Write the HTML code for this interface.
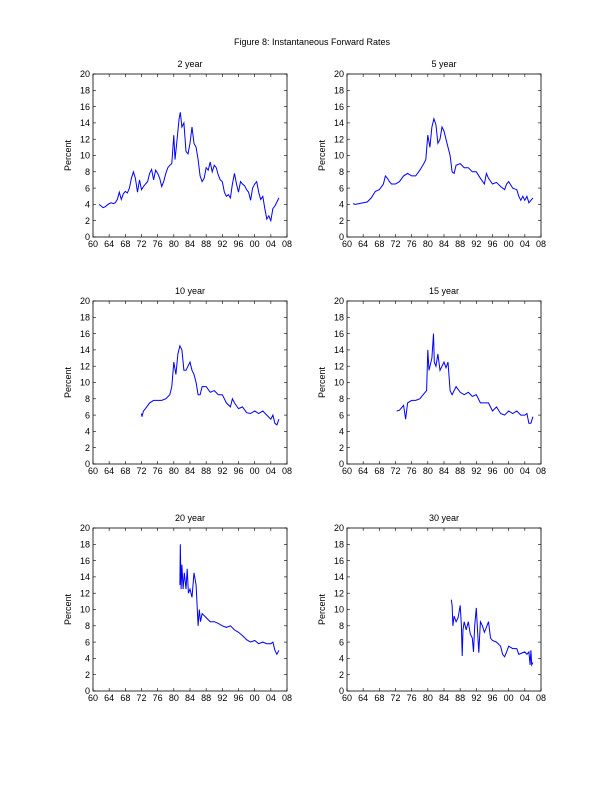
<!DOCTYPE html>
<html><head><meta charset="utf-8"><style>
body{margin:0;background:#fff}
svg{display:block;font-family:"Liberation Sans",sans-serif}
</style></head><body>
<svg id="fig" width="612" height="792">
<text x="312" y="45" font-size="9" text-anchor="middle">Figure 8: Instantaneous Forward Rates</text>
</svg>
<script>
const xTickLabels=["60","64","68","72","76","80","84","88","92","96","00","04","08"];
const yTickLabels=[0,2,4,6,8,10,12,14,16,18,20];
const panelTitles=["2 year","5 year","10 year","15 year","20 year","30 year"];
const y2Dates=[61.5,62,62.5,63,63.5,64,64.5,65,65.5,66,66.5,67,67.5,68,68.5,69,69.5,70,70.5,71,71.5,72,72.5,73,73.5,74,74.5,75,75.5,76,76.5,77,77.5,78,78.5,79,79.5,80,80.3,80.6,81,81.3,81.6,82,82.5,83,83.5,84,84.5,85,85.5,86,86.5,87,87.5,88,88.5,89,89.5,90,90.5,91,91.5,92,92.5,93,93.5,94,94.5,95,95.5,96,96.5,97,97.5,98,98.5,99,99.5,100,100.5,101,101.5,102,102.5,103,103.5,104,104.5,105,105.5,106];
const y2Vals=[4.0,3.8,3.6,3.7,3.9,4.1,4.2,4.1,4.2,4.6,5.5,4.6,5.3,5.6,5.4,6.0,7.2,8.0,7.2,5.5,7.0,5.8,6.2,6.5,6.8,7.8,8.3,7.0,8.2,7.8,7.2,6.2,6.8,7.8,8.5,8.8,9.0,12.5,9.5,11.0,13.0,14.5,15.3,13.5,14.0,10.5,10.2,11.5,13.5,11.5,11.0,9.5,7.5,6.8,7.2,8.5,8.2,9.2,8.0,8.8,8.5,7.6,7.0,6.8,5.5,5.0,5.2,4.8,6.5,7.8,6.5,5.5,6.8,6.5,6.3,5.8,5.5,4.5,6.0,6.5,6.8,5.5,4.6,5.0,3.5,2.2,2.6,2.0,3.5,3.8,4.3,4.8];
const y5Dates=[61.5,62,63,64,65,66,67,68,69,69.5,70,70.5,71,72,73,74,75,76,77,78,79,79.5,80,80.5,81,81.5,82,82.5,83,83.5,84,84.5,85,85.5,86,86.5,87,88,89,90,91,92,93,94,94.5,95,96,97,98,99,99.5,100,101,102,102.5,103,103.5,104,104.5,105,105.5,106];
const y5Vals=[4.1,4.0,4.1,4.2,4.3,4.8,5.6,5.8,6.5,7.5,7.2,6.8,6.5,6.5,6.8,7.5,7.8,7.5,7.5,8.2,9.0,9.5,12.5,11.0,13.5,14.5,13.8,11.5,12.0,13.5,13.0,12.0,11.0,10.0,8.0,7.8,8.8,9.0,8.5,8.5,8.0,8.0,7.2,6.5,7.8,7.2,6.5,6.7,6.2,5.8,6.5,6.8,6.0,5.8,5.0,4.5,5.0,4.5,5.0,4.2,4.5,4.8];
const y10Dates=[72,72.1,72.5,73,74,75,76,77,78,79,79.5,80,80.5,81,81.5,82,82.5,83,83.5,84,84.5,85,85.5,86,86.5,87,88,89,90,91,92,93,94,94.5,95,96,97,98,99,100,101,102,103,104,104.5,105,105.5,106];
const y10Vals=[6.2,5.8,6.5,6.8,7.5,7.8,7.8,7.8,8.0,8.5,9.5,12.5,11.0,13.5,14.5,14.0,11.5,11.5,12.0,12.5,11.5,11.0,10.0,8.5,8.5,9.5,9.5,8.8,9.0,8.5,8.5,7.5,7.0,8.0,7.5,6.8,7.0,6.3,6.2,6.5,6.2,6.5,6.0,5.5,6.0,5.0,4.8,5.5];
const y15Dates=[72.3,73,74,74.5,75,76,77,78,79,79.7,80,80.3,81,81.4,81.6,82,82.5,83,84,84.5,85,85.5,86,87,88,89,90,91,92,93,94,95,96,97,98,99,100,101,102,103,104,104.5,105,105.5,106];
const y15Vals=[6.5,6.6,7.2,5.5,7.5,7.8,7.8,8.0,8.6,9.0,14.0,11.5,13.0,16.0,12.5,12.0,13.5,11.5,12.5,11.8,12.5,9.0,8.5,9.5,8.8,8.5,8.8,8.3,8.5,7.5,7.5,7.5,6.5,7.0,6.2,6.0,6.5,6.2,6.5,6.0,6.0,6.2,5.0,5.0,5.8];
const y20Dates=[81.5,81.6,81.8,82,82.3,82.6,83,83.3,83.6,84,84.5,85,85.5,86,86.3,86.6,87,88,89,90,91,92,93,94,95,96,97,98,99,100,101,102,103,104,104.5,105,105.5,106];
const y20Vals=[13.0,18.0,12.5,15.5,12.5,14.5,12.5,15.0,12.0,12.5,11.5,14.5,13.0,8.0,10.0,8.5,9.5,9.0,8.5,8.5,8.3,8.0,7.8,8.0,7.5,7.2,6.8,6.3,6.0,6.2,5.8,6.0,5.8,5.8,6.0,5.0,4.5,5.0];
const y30Dates=[85.8,86,86.2,86.5,87,87.5,88,88.3,88.5,88.7,89,89.5,90,90.5,91,91.3,91.6,92,92.3,92.6,93,93.5,94,94.5,95,95.5,96,97,98,98.5,99,99.5,100,101,102,102.5,103,104,104.5,105,105.3,105.5,105.7,106];
const y30Vals=[11.2,10.5,8.0,9.2,8.5,9.0,10.5,8.0,4.3,7.5,8.5,7.5,8.5,7.0,6.5,4.8,8.0,10.2,7.5,4.7,8.5,8.0,7.2,7.8,8.5,6.5,6.2,6.0,5.5,4.5,4.2,4.8,5.5,5.2,5.2,4.5,4.6,4.8,4.5,4.8,3.2,5.0,3.2,3.5];
const seriesDates=[y2Dates,y5Dates,y10Dates,y15Dates,y20Dates,y30Dates];
const seriesVals=[y2Vals,y5Vals,y10Vals,y15Vals,y20Vals,y30Vals];

const NS="http://www.w3.org/2000/svg";
const svg=document.getElementById('fig');
function mk(tag,attrs,parent){const e=document.createElementNS(NS,tag);for(const k in attrs)e.setAttribute(k,attrs[k]);(parent||svg).appendChild(e);return e;}
const lefts=[93,347],tops=[74,301,528],W=194,H=163;
for(let p=0;p<6;p++){
  const L=lefts[p%2],T=tops[Math.floor(p/2)];
  const xs=yr=>L+(yr-60)/48*W;
  const ys=v=>T+H-v/20*H;
  const g=mk('g',{});
  
  
  const t=mk('text',{x:L+W/2,y:T-7,'font-size':9,'text-anchor':'middle'},g);t.textContent=panelTitles[p];
  
  
  const yl=mk('text',{x:0,y:0,'font-size':9,'text-anchor':'middle',transform:`translate(${L-22},${T+H/2}) rotate(-90)`},g);yl.textContent='Percent';
  
  
  mk('rect',{x:L,y:T,width:W,height:H,fill:'none',stroke:'#000','stroke-width':0.8},g);
  yTickLabels.forEach(v=>{const y=ys(v);
    mk('line',{x1:L,x2:L+3,y1:y,y2:y,stroke:'#000','stroke-width':0.6},g);
    mk('line',{x1:L+W-3,x2:L+W,y1:y,y2:y,stroke:'#000','stroke-width':0.6},g);
    const tx=mk('text',{x:L-3,y:y+3.2,'font-size':9,'text-anchor':'end'},g);tx.textContent=v;
    
    });
  xTickLabels.forEach((s,i)=>{const x=xs(60+4*i);
    mk('line',{x1:x,x2:x,y1:T+H,y2:T+H-3,stroke:'#000','stroke-width':0.6},g);
    mk('line',{x1:x,x2:x,y1:T,y2:T+3,stroke:'#000','stroke-width':0.6},g);
    const tx=mk('text',{x:x,y:T+H+10,'font-size':9,'text-anchor':'middle'},g);tx.textContent=s;
    
    });
  const d=seriesDates[p].map((yr,i)=>(i?'L':'M')+xs(yr).toFixed(1)+','+ys(seriesVals[p][i]).toFixed(1)).join('');
  const path=mk('path',{d:d,fill:'none',stroke:'#0000ff','stroke-width':1},g);
  
  
}
</script>
</body></html>
